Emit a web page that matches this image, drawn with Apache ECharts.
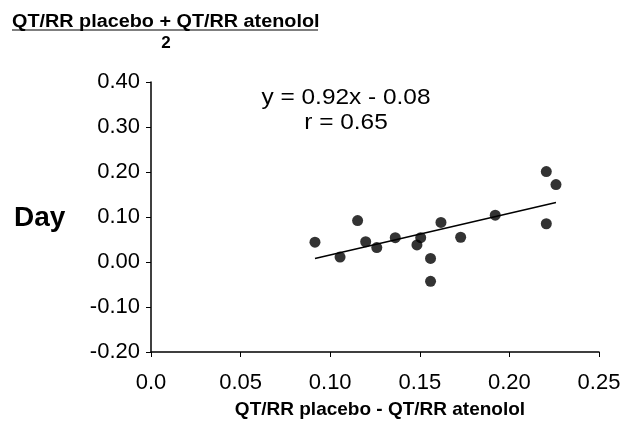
<!DOCTYPE html>
<html>
<head>
<meta charset="utf-8">
<script src="https://cdn.jsdelivr.net/npm/echarts@6/dist/echarts.min.js"></script>
<style>
  html, body { margin: 0; padding: 0; background: #fff; }
  #chart { width: 629px; height: 427px; }
</style>
</head>
<body>
<div id="chart"></div>
<script>
// QT/RR difference (placebo - atenolol) vs mean
const diffValues = [0.0915, 0.1055, 0.1153, 0.1198, 0.126, 0.1363, 0.1505, 0.1484,
  0.1618, 0.156, 0.156, 0.1728, 0.1921, 0.2206, 0.226, 0.2206];
const meanValues = [0.044, 0.011, 0.092, 0.045, 0.032, 0.054, 0.054, 0.038,
  0.088, 0.008, -0.043, 0.055, 0.104, 0.201, 0.172, 0.085];
// fitted line end points
const fitX = [0.0915, 0.226];
const fitY = [0.008, 0.132];
const yTicks = [-0.2, 0.4];
const xTicks = [0, 0.25];

const chart = echarts.init(document.getElementById('chart'));
const font = "'Liberation Sans', Arial, sans-serif";

chart.setOption({
  animation: false,
  backgroundColor: '#fff',
  grid: { left: 151, right: 30, top: 82, bottom: 75 },
  xAxis: {
    type: 'value',
    min: xTicks[0],
    max: xTicks[1],
    interval: 0.05,
    axisLine: { onZero: false, lineStyle: { color: '#000', width: 1.5 } },
    axisTick: { length: 5, lineStyle: { color: '#000' } },
    splitLine: { show: false },
    axisLabel: {
      color: '#000', fontSize: 22, fontFamily: font, margin: 20,
      formatter: v => v === 0 ? '0.0' : v.toFixed(2)
    },
    name: 'QT/RR placebo - QT/RR atenolol',
    nameLocation: 'middle',
    nameGap: 48,
    nameTextStyle: { color: '#000', fontSize: 19, fontWeight: 'bold', fontFamily: font, padding: [0, 0, 0, 10] }
  },
  yAxis: {
    type: 'value',
    min: yTicks[0],
    max: yTicks[1],
    interval: 0.1,
    axisLine: { onZero: false, lineStyle: { color: '#000', width: 1.5 } },
    axisTick: { show: true, length: 5, lineStyle: { color: '#000' } },
    splitLine: { show: false },
    axisLabel: {
      color: '#000', fontSize: 22, fontFamily: font, margin: 11,
      formatter: v => v.toFixed(2)
    }
  },
  graphic: [
    { type: 'text', x: 12, y: 22, scaleX: 1.1,
      style: { text: 'QT/RR placebo + QT/RR atenolol', fontSize: 18, fontWeight: 'bold', fontFamily: font, fill: '#000', verticalAlign: 'middle' } },
    { type: 'line', shape: { x1: 12, y1: 30, x2: 318, y2: 30 }, style: { stroke: '#000', lineWidth: 1.2 } },
    { type: 'text', x: 166, y: 43,
      style: { text: '2', fontSize: 17, fontWeight: 'bold', fontFamily: font, fill: '#000', align: 'center', verticalAlign: 'middle' } },
    { type: 'text', x: 14, y: 218,
      style: { text: 'Day', fontSize: 28, fontWeight: 'bold', fontFamily: font, fill: '#000', verticalAlign: 'middle' } },
    { type: 'text', x: 346, y: 98, scaleX: 1.11,
      style: { text: 'y = 0.92x - 0.08', fontSize: 22, fontFamily: font, fill: '#000', align: 'center', verticalAlign: 'middle' } },
    { type: 'text', x: 346, y: 123, scaleX: 1.11,
      style: { text: 'r = 0.65', fontSize: 22, fontFamily: font, fill: '#000', align: 'center', verticalAlign: 'middle' } }
  ],
  series: [
    {
      type: 'line',
      data: fitX.map((x, i) => [x, fitY[i]]),
      symbol: 'none',
      lineStyle: { color: '#000', width: 1.5 },
      z: 2
    },
    {
      type: 'scatter',
      data: diffValues.map((x, i) => [x, meanValues[i]]),
      symbolSize: 11,
      itemStyle: { color: '#000' },
      z: 3
    }
  ]
});
</script>
</body>
</html>
